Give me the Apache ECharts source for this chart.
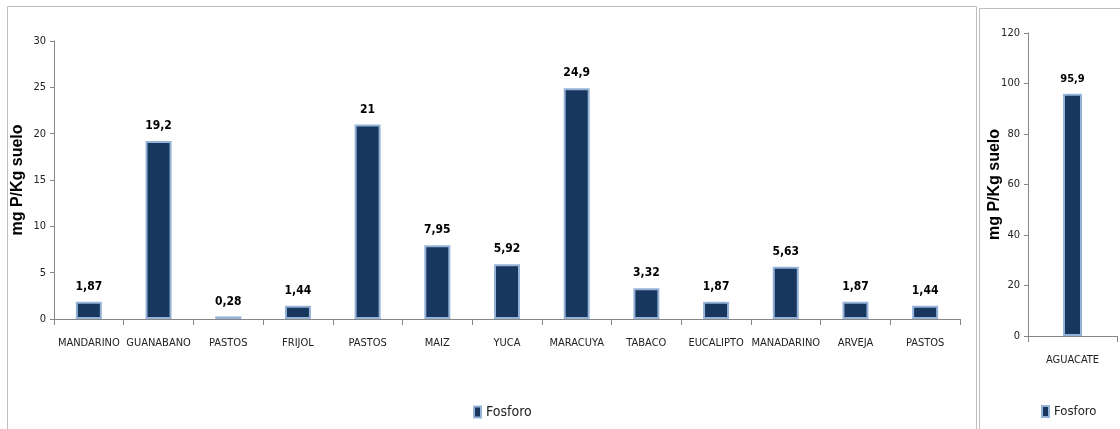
<!DOCTYPE html>
<html>
<head>
<meta charset="utf-8">
<script src="https://cdn.jsdelivr.net/npm/echarts@6/dist/echarts.min.js"></script>
<style>
  html, body { margin: 0; padding: 0; background: #fff; }
  #chart { width: 1120px; height: 429px; }
</style>
</head>
<body>
<div id="chart"></div>
<script>
// datos de fosforo por cultivo
var cultivos = ['MANDARINO', 'GUANABANO', 'PASTOS', 'FRIJOL', 'PASTOS', 'MAIZ', 'YUCA', 'MARACUYA', 'TABACO', 'EUCALIPTO', 'MANADARINO', 'ARVEJA', 'PASTOS']
var fosforo = [1.87, 19.2, 0.28, 1.44, 21, 7.95, 5.92, 24.9, 3.32, 1.87, 5.63, 1.87, 1.44]
// aguacate va aparte, escala mas grande
var cultivos2 = ['AGUACATE']
var fosforo2 = [95.9]

var narrow = "'DejaVu Sans Condensed', sans-serif"
var eje = '#868686'

function coma(p) {
  return String(p.value).replace('.', ',')
}

var barStyle = {
  color: '#17375E',
  borderColor: '#95B3D7',
  borderWidth: 2
}

function yAxis(grid, max, step) {
  return {
    type: 'value', gridIndex: grid, min: 0, max: max, interval: step,
    name: 'mg P/Kg suelo', nameLocation: 'middle', nameRotate: 90,
    nameGap: grid === 0 ? 28 : 25, nameMoveOverlap: false,
    nameTextStyle: { fontFamily: 'Liberation Sans', fontWeight: 'bold', fontSize: 16, color: '#000' },
    axisLine: { show: true, lineStyle: { color: eje } },
    axisTick: { show: true, length: 4, lineStyle: { color: eje } },
    splitLine: { show: false },
    axisLabel: { fontFamily: narrow, fontSize: 11, color: '#222', margin: 8 }
  }
}

function xAxis(grid, data) {
  return {
    type: 'category', gridIndex: grid, data: data,
    axisLine: { lineStyle: { color: eje } },
    axisTick: { show: true, length: 6, interval: 0, lineStyle: { color: eje } },
    axisLabel: { fontFamily: narrow, fontSize: 11, color: '#222', margin: 19, interval: 0 }
  }
}

var chart = echarts.init(document.getElementById('chart'))

var option = {
  animation: false,
  graphic: [
    { type: 'rect', shape: { x: 7.5, y: 6.5, width: 969, height: 430 }, style: { fill: 'none', stroke: '#BFBFBF', lineWidth: 1 } },
    { type: 'rect', shape: { x: 979.5, y: 8.5, width: 150, height: 430 }, style: { fill: 'none', stroke: '#BFBFBF', lineWidth: 1 } }
  ],
  grid: [
    { left: 54, right: 160, top: 41, bottom: 110, outerBoundsMode: 'none' },
    { left: 1028, right: 3, top: 33, bottom: 93, outerBoundsMode: 'none' }
  ],
  legend: [
    { data: ['Fosforo'], left: 468, top: 400, icon: 'rect', itemWidth: 7, itemHeight: 11, itemGap: 4,
      textStyle: { fontFamily: narrow, fontSize: 14, color: '#222' } },
    { data: ['Fosforo'], left: 1036, top: 400, icon: 'rect', itemWidth: 7, itemHeight: 11, itemGap: 4,
      textStyle: { fontFamily: narrow, fontSize: 13, color: '#222' } }
  ],
  xAxis: [xAxis(0, cultivos), xAxis(1, cultivos2)],
  yAxis: [yAxis(0, 30, 5), yAxis(1, 120, 20)],
  series: [
    {
      name: 'Fosforo', type: 'bar', xAxisIndex: 0, yAxisIndex: 0,
      data: fosforo, barWidth: 26, itemStyle: barStyle,
      label: { show: true, position: 'top', distance: 9, formatter: coma,
        fontFamily: narrow, fontWeight: 'bold', fontSize: 12, color: '#000' }
    },
    {
      name: 'Fosforo', type: 'bar', xAxisIndex: 1, yAxisIndex: 1,
      data: fosforo2, barWidth: 19, itemStyle: barStyle,
      label: { show: true, position: 'top', distance: 9, formatter: coma,
        fontFamily: narrow, fontWeight: 'bold', fontSize: 11, color: '#000' }
    }
  ]
}
chart.setOption(option)
</script>
</body>
</html>
